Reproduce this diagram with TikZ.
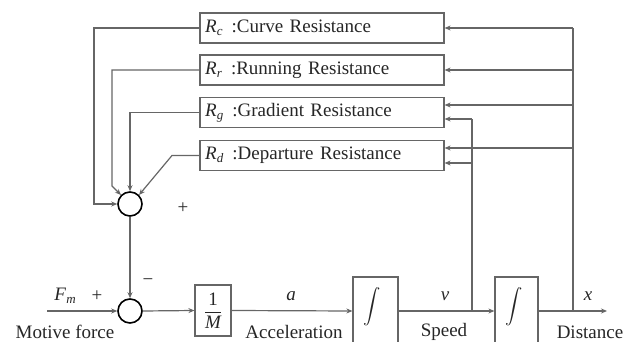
\documentclass[tikz,border=0pt]{standalone}
\usepackage{fontspec}
\usepackage{amsmath}
\setmainfont{Liberation Serif}
\usetikzlibrary{arrows.meta}
\definecolor{linegray}{HTML}{666666}
\definecolor{textgray}{HTML}{262626}
\newcommand{\Rsub}[1]{\textit{R}\kern0.3pt\raisebox{-0.35ex}{\fontsize{13}{13}\selectfont\textit{#1}}}
\begin{document}
\begin{tikzpicture}[x=1pt,y=-1pt,
  font=\fontsize{19}{22}\selectfont,
  every node/.style={text=textgray},
  line/.style={draw=linegray, line width=1.2pt},
  arr/.style={line, -{Stealth[length=6pt,width=5pt]}},
  rbox/.style={draw=linegray, line width=1.2pt, minimum width=244pt, minimum height=30pt,
    text width=234pt, inner xsep=5pt, inner ysep=0pt, align=left},
  sumc/.style={circle, draw=black, line width=1.6pt, minimum size=24pt, inner sep=0pt},
  blk/.style={draw=linegray, line width=1.2pt, inner sep=0pt}]
\useasboundingbox (0,0) rectangle (638,342);

% resistance boxes
\node[rbox] (rc) at (322,28) {\Rsub{c}\hspace{9pt}:Curve Resistance};
\node[rbox] (rr) at (322,70) {\Rsub{r}\hspace{9pt}:Running Resistance};
\node[rbox] (rg) at (322,112.5) {\Rsub{g}\hspace{9pt}:Gradient Resistance};
\node[rbox] (rd) at (322,155.5) {\Rsub{d}\hspace{9pt}:Departure Resistance};

% summing junctions
\node[sumc] (s1) at (130,204) {};
\node[sumc] (s2) at (130,311) {};

% blocks
\node[blk, minimum width=36pt, minimum height=51pt] (m) at (213,310.5) {$\displaystyle\frac{\text{1}}{\text{\itshape M}}$};
\node[blk, minimum width=45pt, minimum height=68pt] (i1) at (375.5,311) {};
\node[blk, minimum width=43pt, minimum height=68pt] (i2) at (516.5,311) {};
\node (int1) at (372,307) {$\displaystyle\int$};
\node (int2) at (514,307) {$\displaystyle\int$};

% coordinates
\coordinate (in) at (47,311);
\coordinate (out) at (607,311);
\coordinate (vb) at (472,311);
\coordinate (db) at (573,311);
\coordinate (sp1) at (472,119);
\coordinate (sp2) at (472,163);
\coordinate (d0) at (573,28);
\coordinate (d1) at (573,70);
\coordinate (d2) at (573,105);
\coordinate (d3) at (573,148);
\coordinate (c0) at (94,28);
\coordinate (c1a) at (112,70);
\coordinate (c1b) at (112,186);
\coordinate (c3) at (172,155.5);

% feedback into upper junction
\draw[arr] (rc.west) -- (c0) |- (s1.west);
\draw[arr] (rr.west) -- (c1a) -- (c1b) -- (s1.135);
\draw[arr] (rg.west) -| (s1.north);
\draw[arr] (rd.west) -- (c3) -- (s1.45);

% forward path
\draw[arr] (s1.south) -- (s2.north);
\draw[arr] (in) -- (s2.west);
\draw[arr] (s2.east) -- (m.west);
\draw[arr] (m.east) -- (i1.west);
\draw[arr] (i1.east) -- (i2.west);
\draw[arr] (i2.east) -- (out);

% speed branch
\draw[line] (vb) -- (sp1);
\draw[arr] (sp1) -- (sp1 -| rg.east);
\draw[arr] (sp2) -- (sp2 -| rd.east);

% distance branch
\draw[line] (db) -- (d0);
\draw[arr] (d0) -- (d0 -| rc.east);
\draw[arr] (d1) -- (d1 -| rr.east);
\draw[arr] (d2) -- (d2 -| rg.east);
\draw[arr] (d3) -- (d3 -| rd.east);

% labels
\node (plus1) at (183,208) {+};
\node (minus) at (148,282) {−};
\node (fm) at (65,296) {\textit{F}\kern0.3pt\raisebox{-0.35ex}{\fontsize{13}{13}\selectfont\textit{m}}};
\node (plus2) at (97,296) {+};
\node (la) at (291,296) {\textit{a}};
\node (lv) at (445,296) {\textit{v}};
\node (lx) at (588,296) {\textit{x}};
\node (lmf) at (65,332) {Motive force};
\node (lac) at (294,332) {Acceleration};
\node (lsp) at (444,332) {Speed};
\node (ldi) at (590,332) {Distance};
\end{tikzpicture}
\end{document}
